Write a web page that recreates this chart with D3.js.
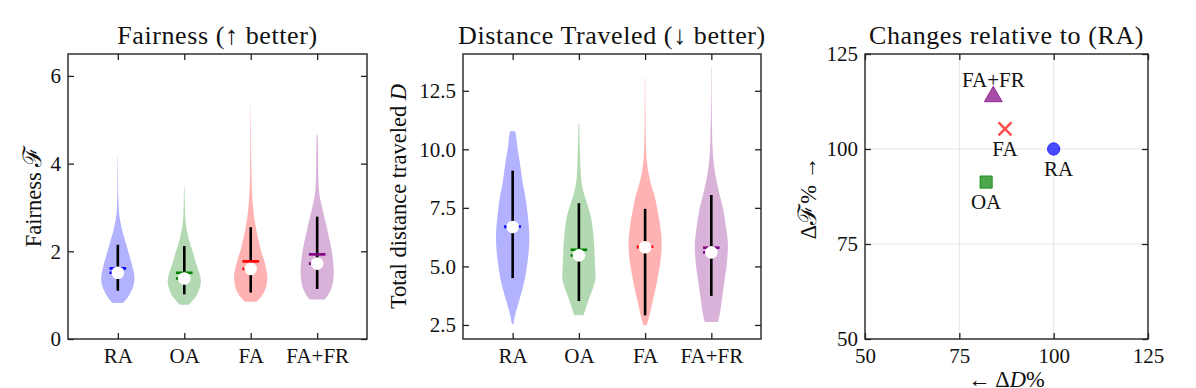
<!DOCTYPE html>
<html>
<head>
<meta charset="utf-8">
<script src="https://cdn.jsdelivr.net/npm/d3@7"></script>
<style>
  body { margin: 0; background: #fff; }
  svg text { font-family: "Liberation Serif", "DejaVu Serif", serif; fill: #111; }
</style>
</head>
<body>
<div id="chart"></div>
<script>
// categories and colours of the four methods
var categories = ["RA", "OA", "FA", "FA+FR"];
var colors = ["blue", "green", "red", "purple"];

// violin outlines: [value, relative half width]
var fairnessProfiles = [
  [[0.82,0.3],[0.9,0.5],[1.0,0.68],[1.1,0.82],[1.2,0.93],[1.35,1.0],[1.5,0.97],[1.7,0.85],[1.9,0.7],[2.1,0.55],[2.3,0.4],[2.5,0.25],[2.7,0.14],[2.9,0.07],[3.2,0.035],[3.6,0.02],[4.0,0.012],[4.18,0.005]],
  [[0.78,0.28],[0.9,0.55],[1.0,0.75],[1.15,0.92],[1.3,1.0],[1.45,0.95],[1.6,0.82],[1.8,0.65],[2.0,0.5],[2.2,0.33],[2.4,0.2],[2.6,0.1],[2.8,0.06],[3.1,0.035],[3.5,0.01]],
  [[0.85,0.35],[0.95,0.6],[1.1,0.85],[1.3,0.98],[1.45,1.0],[1.6,0.93],[1.8,0.8],[2.0,0.63],[2.2,0.5],[2.5,0.33],[2.8,0.2],[3.1,0.12],[3.5,0.06],[4.0,0.035],[4.6,0.02],[5.4,0.005]],
  [[0.9,0.45],[1.0,0.65],[1.15,0.85],[1.35,0.97],[1.55,1.0],[1.8,0.95],[2.0,0.88],[2.2,0.78],[2.4,0.66],[2.6,0.55],[2.8,0.42],[3.0,0.3],[3.2,0.18],[3.4,0.11],[3.7,0.07],[4.0,0.06],[4.3,0.05],[4.65,0.03]]
];
var fairnessRange = [[1.10,2.15],[1.02,2.12],[1.06,2.55],[1.14,2.79]];
var fairnessMean = [1.61, 1.51, 1.77, 1.93];
var fairnessMedian = [1.51, 1.38, 1.60, 1.72];

var distanceProfiles = [
  [[2.53,0.04],[3.0,0.18],[3.5,0.38],[4.0,0.58],[4.5,0.75],[5.0,0.86],[5.5,0.95],[6.0,1.0],[6.5,1.0],[7.0,0.94],[7.5,0.86],[8.0,0.76],[8.5,0.62],[9.0,0.52],[9.5,0.42],[10.0,0.3],[10.5,0.22],[10.77,0.16]],
  [[2.91,0.28],[3.2,0.42],[3.6,0.6],[4.0,0.82],[4.5,1.0],[5.0,0.98],[5.5,0.95],[6.0,0.92],[6.5,0.85],[7.0,0.76],[7.5,0.58],[8.0,0.35],[8.5,0.18],[9.0,0.11],[9.5,0.08],[10.0,0.06],[10.5,0.04],[11.08,0.03]],
  [[2.49,0.1],[3.0,0.3],[3.5,0.45],[4.0,0.62],[4.5,0.76],[5.0,0.88],[5.5,0.97],[6.0,1.0],[6.5,0.95],[7.0,0.85],[7.5,0.72],[8.0,0.58],[8.5,0.36],[9.0,0.2],[9.5,0.1],[10.0,0.06],[11.0,0.03],[12.0,0.02],[13.07,0.01]],
  [[2.63,0.4],[3.0,0.52],[3.5,0.62],[4.0,0.72],[4.5,0.82],[5.0,0.92],[5.5,0.98],[6.0,1.0],[6.5,0.92],[7.0,0.82],[7.5,0.7],[8.0,0.52],[8.5,0.36],[9.0,0.22],[9.5,0.13],[10.0,0.08],[11.0,0.04],[12.0,0.02],[13.5,0.01]]
];
var distanceRange = [[4.50,9.09],[3.52,7.70],[2.91,7.46],[3.74,8.05]];
var distanceMean = [6.70, 5.71, 5.84, 5.80];
var distanceMedian = [6.68, 5.47, 5.82, 5.60];

// relative changes (%) for the scatter panel
var deltaD = [100, 82.1, 87.1, 84.0];
var deltaF = [100, 91.3, 105.3, 113.8];
var markers = [d3.symbolCircle, d3.symbolSquare, d3.symbolX, d3.symbolTriangle];

var fairnessTicks = [0, 2, 4, 6];
var distanceTicks = [2.5, 5, 7.5, 10, 12.5];
var changeTicks = [50, 75, 100, 125];

var W = 1196, H = 388;
var plotTop = 54, plotBottom = 339;
var tickFont = 21, labelFont = 22.5, titleFont = 26;

var svg = d3.select("#chart").append("svg")
    .attr("width", W)
    .attr("height", H);

function box(g, x0, x1) {
    g.append("rect")
        .attr("x", x0).attr("y", plotTop)
        .attr("width", x1 - x0).attr("height", plotBottom - plotTop)
        .attr("fill", "none").attr("stroke", "#222").attr("stroke-width", 1.4);
}

function ticksAll(g, x, y, xt, yt, x0, x1, showX, yfmt) {
    var ax = g.append("g").attr("transform", "translate(0," + plotBottom + ")")
        .call(d3.axisBottom(x).tickValues(xt).tickSize(-6).tickPadding(9).tickFormat(showX));
    var axT = g.append("g").attr("transform", "translate(0," + plotTop + ")")
        .call(d3.axisTop(x).tickValues(xt).tickSize(-6).tickFormat(""));
    var ay = g.append("g").attr("transform", "translate(" + x0 + ",0)")
        .call(d3.axisLeft(y).tickValues(yt).tickSize(-6).tickPadding(7).tickFormat(yfmt));
    var ayR = g.append("g").attr("transform", "translate(" + x1 + ",0)")
        .call(d3.axisRight(y).tickValues(yt).tickSize(-6).tickFormat(""));
    [ax, axT, ay, ayR].forEach(function (a) {
        a.select(".domain").remove();
        a.selectAll("line").attr("stroke", "#222").attr("stroke-width", 1.3);
        a.selectAll("text").attr("font-size", tickFont)
            .attr("font-family", "Liberation Serif, DejaVu Serif, serif").attr("fill", "#111");
    });
}

function title(g, x0, x1, txt) {
    g.append("text")
        .attr("x", (x0 + x1) / 2).attr("y", 44)
        .attr("text-anchor", "middle").attr("font-size", titleFont)
        .attr("letter-spacing", 0.6)
        .text(txt);
}

function violinPanel(x0, x1, yDomain, yTicks, yfmt, profiles, ranges, means, medians, txt) {
    var g = svg.append("g");
    var x = d3.scaleLinear().domain([0.25, 4.75]).range([x0, x1]);
    var y = d3.scaleLinear().domain(yDomain).range([plotBottom, plotTop]);
    var half = x(1.25) - x(1);

    profiles.forEach(function (prof, i) {
        var cx = x(i + 1);
        var area = d3.area()
            .curve(d3.curveCatmullRom)
            .y(function (d) { return y(d[0]); })
            .x0(function (d) { return cx - d[1] * half; })
            .x1(function (d) { return cx + d[1] * half; });
        g.append("path").datum(prof)
            .attr("d", area)
            .attr("fill", colors[i]).attr("fill-opacity", 0.3);
    });

    categories.forEach(function (c, i) {
        var cx = x(i + 1);
        var w = x(1.125) - x(1);
        g.append("line")
            .attr("x1", cx).attr("x2", cx)
            .attr("y1", y(ranges[i][0])).attr("y2", y(ranges[i][1]))
            .attr("stroke", "#000").attr("stroke-width", 2.6);
        g.append("line")
            .attr("x1", cx - w).attr("x2", cx + w)
            .attr("y1", y(means[i])).attr("y2", y(means[i]))
            .attr("stroke", colors[i]).attr("stroke-width", 2.6);
        g.append("line")
            .attr("x1", cx - w).attr("x2", cx + w)
            .attr("y1", y(medians[i])).attr("y2", y(medians[i]))
            .attr("stroke", colors[i]).attr("stroke-width", 2.6)
            .attr("stroke-dasharray", "2.6,3");
        g.append("circle")
            .attr("cx", cx).attr("cy", y(medians[i])).attr("r", 6.3)
            .attr("fill", "#fff");
    });

    box(g, x0, x1);
    ticksAll(g, x, y, [1, 2, 3, 4], yTicks, x0, x1, function (d) { return categories[d - 1]; }, yfmt);
    title(g, x0, x1, txt);
    return g;
}

var g1 = violinPanel(68, 367, [0, 6.5], fairnessTicks, d3.format("d"),
    fairnessProfiles, fairnessRange, fairnessMean, fairnessMedian, "Fairness (\u2191 better)");
var yl1 = g1.append("text")
    .attr("transform", "translate(41," + (plotTop + plotBottom) / 2 + ") rotate(-90)")
    .attr("text-anchor", "middle").attr("font-size", labelFont);
yl1.append("tspan").text("Fairness ");
yl1.append("tspan").attr("font-size", labelFont + 3).text("\u2131");

var g2 = violinPanel(463, 761, [1.9, 14.07], distanceTicks, d3.format(".1f"),
    distanceProfiles, distanceRange, distanceMean, distanceMedian, "Distance Traveled (\u2193 better)");
var yl2 = g2.append("text")
    .attr("transform", "translate(406," + (plotTop + plotBottom) / 2 + ") rotate(-90)")
    .attr("text-anchor", "middle").attr("font-size", labelFont);
yl2.append("tspan").text("Total distance traveled ");
yl2.append("tspan").attr("font-style", "italic").text("D");

// scatter panel
var g3 = svg.append("g");
var sx0 = 865, sx1 = 1148;
var sx = d3.scaleLinear().domain([50, 125]).range([sx0, sx1]);
var sy = d3.scaleLinear().domain([50, 125]).range([plotBottom, plotTop]);

g3.selectAll(".gx").data([75, 100]).enter().append("line")
    .attr("x1", function (d) { return sx(d); }).attr("x2", function (d) { return sx(d); })
    .attr("y1", plotTop).attr("y2", plotBottom)
    .attr("stroke", "#e2e2e2").attr("stroke-width", 0.9);
g3.selectAll(".gy").data([75, 100]).enter().append("line")
    .attr("y1", function (d) { return sy(d); }).attr("y2", function (d) { return sy(d); })
    .attr("x1", sx0).attr("x2", sx1)
    .attr("stroke", "#e2e2e2").attr("stroke-width", 0.9);

var symbolSize = [120, 150, 110, 140];
categories.forEach(function (c, i) {
    var p = g3.append("path")
        .attr("transform", "translate(" + sx(deltaD[i]) + "," + sy(deltaF[i]) + ")")
        .attr("d", d3.symbol().type(markers[i]).size(symbolSize[i])());
    if (markers[i] === d3.symbolX) {
        p.attr("fill", "none").attr("stroke", colors[i]).attr("stroke-opacity", 0.7).attr("stroke-width", 2.6);
    } else {
        p.attr("fill", colors[i]).attr("fill-opacity", 0.7)
            .attr("stroke", colors[i]).attr("stroke-opacity", 0.7).attr("stroke-width", 1);
    }
});

// label offsets in pixels (dx, dy) relative to each marker
var labelShift = [[5, 27], [0, 27], [0, 27], [0, -10]];
categories.forEach(function (c, i) {
    g3.append("text")
        .attr("x", sx(deltaD[i]) + labelShift[i][0])
        .attr("y", sy(deltaF[i]) + labelShift[i][1])
        .attr("text-anchor", "middle").attr("font-size", tickFont)
        .text(c);
});

box(g3, sx0, sx1);
ticksAll(g3, sx, sy, changeTicks, changeTicks, sx0, sx1, d3.format("d"), d3.format("d"));
title(g3, sx0, sx1, "Changes relative to (RA)");

var yl3 = g3.append("text")
    .attr("transform", "translate(816,198) rotate(-90)")
    .attr("text-anchor", "middle").attr("font-size", labelFont);
yl3.append("tspan").text("\u0394");
yl3.append("tspan").attr("font-size", labelFont + 3).text("\u2131");
yl3.append("tspan").text("% \u2192");
var xl3 = g3.append("text")
    .attr("x", (sx0 + sx1) / 2).attr("y", 387)
    .attr("text-anchor", "middle").attr("font-size", labelFont);
xl3.append("tspan").text("\u2190 \u0394");
xl3.append("tspan").attr("font-style", "italic").text("D");
xl3.append("tspan").text("%");
</script>
</body>
</html>
